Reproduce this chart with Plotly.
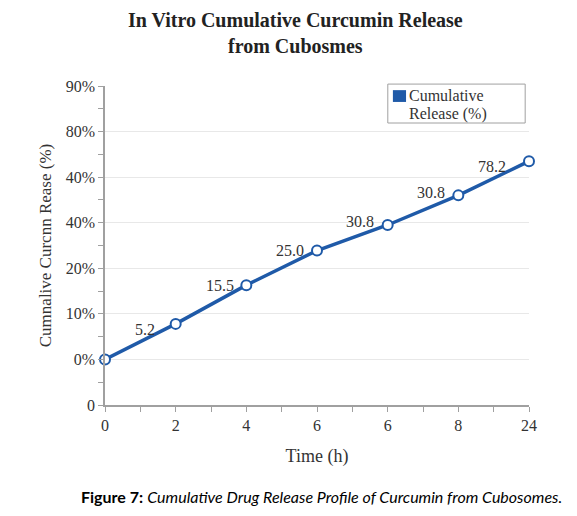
import plotly.graph_objects as go

# x categories (as printed on the chart) and cumulative release values
time_labels = ["0", "2", "4", "6", "6", "8", "24"]
release = [0.0, 7.8, 16.3, 23.9, 29.5, 36.0, 43.5]
point_labels = ["", "5.2", "15.5", "25.0", "30.8", "30.8", "78.2"]

# y tick labels as they appear on the figure
y_tick_vals = [-10, 0, 10, 20, 30, 40, 50, 60]
y_tick_text = ["0", "0%", "10%", "20%", "40%", "40%", "80%", "90%"]

legend_lines = ["Cumulative", "Release (%)"]

# label offsets in px (style only)
label_dx = [0, -19, -10, -11, -12, -11, -21]
label_dy = [0, -6, 0, 0, 3, 3, -5]

BLUE = "#1f5aa8"
SERIF = "Liberation Serif, Times New Roman, serif"
GREY = "#a0a0a0"
TXT = "#333333"

x_pos = list(range(len(time_labels)))

fig = go.Figure()
fig.add_trace(go.Scatter(
    x=x_pos,
    y=release,
    mode="lines+markers",
    line=dict(color=BLUE, width=3.5),
    marker=dict(size=10, color="white", line=dict(color=BLUE, width=2)),
    cliponaxis=False,
    showlegend=False,
))

for xi, yi, lab, dx, dy in zip(x_pos, release, point_labels, label_dx, label_dy):
    if not lab:
        continue
    fig.add_annotation(
        x=xi, y=yi, text=lab, showarrow=False,
        xanchor="right", yanchor="middle", xshift=dx, yshift=dy,
        font=dict(family=SERIF, size=16, color=TXT),
    )

# legend box drawn by hand: square swatch aligned with first text line
fig.add_shape(type="rect", xref="paper", yref="paper",
              x0=0.667, x1=0.991, y0=0.884, y1=1.006,
              line=dict(color=GREY, width=1), fillcolor="white", layer="above")
fig.add_shape(type="rect", xref="paper", yref="paper",
              x0=0.679, x1=0.710, y0=0.950, y1=0.987,
              line=dict(width=0), fillcolor=BLUE, layer="above")
for line_text, ly in zip(legend_lines, [0.969, 0.913]):
    fig.add_annotation(
        text=line_text, xref="paper", yref="paper",
        x=0.712, y=ly, xanchor="left", yanchor="middle", align="left",
        showarrow=False, font=dict(family=SERIF, size=16, color=TXT),
    )

# page body has an 8px margin, so the figure is drawn 8px smaller
fig.update_layout(
    width=569, height=508,
    margin=dict(l=97, r=48, t=78, b=111),
    paper_bgcolor="white",
    plot_bgcolor="white",
    showlegend=False,
    font=dict(family=SERIF, size=16, color=TXT),
    title=dict(
        text="<b>In Vitro Cumulative Curcumin Release<br>from Cubosmes</b>",
        x=0.505, xanchor="center", y=0.962, yanchor="top",
        font=dict(family=SERIF, size=20, color="#222222"),
    ),
    xaxis=dict(
        range=[0, 6], automargin=False,
        tickmode="array", tickvals=x_pos, ticktext=time_labels,
        showgrid=False, zeroline=False,
        showline=True, linecolor=GREY, linewidth=1.5,
        ticks="outside", ticklen=5, tickcolor=GREY,
        minor=dict(dtick=0.5, ticks="outside", ticklen=5, tickcolor=GREY, showgrid=False),
        tickfont=dict(family=SERIF, size=16, color=TXT),
        title=dict(text="Time (h)", font=dict(family=SERIF, size=18, color=TXT), standoff=16),
    ),
    yaxis=dict(
        range=[-10, 60], automargin=False,
        tickmode="array", tickvals=y_tick_vals, ticktext=y_tick_text,
        showgrid=True, gridcolor="#e8e8e8", gridwidth=1,
        zeroline=False,
        showline=True, linecolor=GREY, linewidth=1.5,
        ticks="outside", ticklen=5, tickcolor=GREY,
        minor=dict(dtick=5, tick0=-10, ticks="outside", ticklen=5, tickcolor=GREY, showgrid=False),
        tickfont=dict(family=SERIF, size=16, color=TXT),
        title=dict(text="Cumnalive Curcnn Rease (%)", font=dict(family=SERIF, size=17, color=TXT), standoff=10),
    ),
)

fig.add_annotation(
    text="<b>Figure 7:</b> <i>Cumulative Drug Release Profile of Curcumin from Cubosomes.</i>",
    xref="paper", yref="paper", x=0.51, y=-0.288, xanchor="center", yanchor="middle",
    showarrow=False,
    font=dict(family="Lato, Open Sans, sans-serif", size=16, color="black"),
)

fig.write_html("out.html")
